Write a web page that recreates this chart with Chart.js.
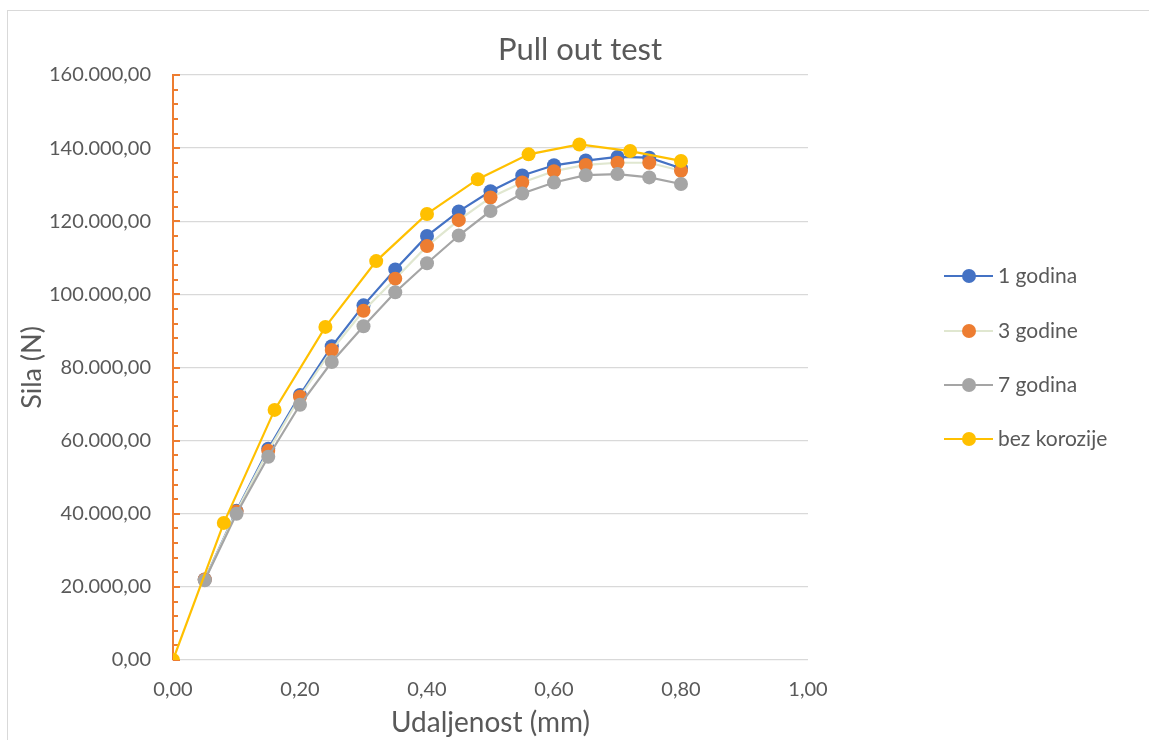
<!DOCTYPE html>
<html><head><meta charset="utf-8">
<script src="https://cdn.jsdelivr.net/npm/chart.js@4.4.0/dist/chart.umd.min.js"></script>
<style>
html,body{margin:0;padding:0;background:#fff;overflow:hidden}
#frame{position:absolute;left:7px;top:10px;width:1200px;height:800px;border:1px solid #d9d9d9;box-sizing:border-box}
#wrap{position:absolute;left:0;top:0;width:1149px;height:740px}
</style></head><body>
<div id="frame"></div>
<div id="wrap"><canvas id="c" width="1149" height="740"></canvas></div>
<script>
// ---- data ----
const xYears = [0.05,0.10,0.15,0.20,0.25,0.30,0.35,0.40,0.45,0.50,0.55,0.60,0.65,0.70,0.75,0.80];
const xBez   = [0,0.08,0.16,0.24,0.32,0.40,0.48,0.56,0.64,0.72,0.80];
const godina1 = [22000,40800,57800,72500,85800,97000,106800,116000,122700,128200,132500,135300,136600,137600,137400,134500];
const godine3 = [22000,40600,57200,72000,84800,95500,104300,113200,120300,126500,130600,133700,135400,136000,136000,133800];
const godina7 = [21800,40000,55600,69800,81500,91300,100600,108500,116100,122800,127600,130600,132600,132900,132000,130200];
const bezKorozije = [0,37500,68400,91100,109100,122000,131500,138300,141000,139200,136500];
const seriesNames = ['1 godina','3 godine','7 godina','bez korozije'];
const xTickValues = [0,0.2,0.4,0.6,0.8,1.0];
const yTickValues = [0,20000,40000,60000,80000,100000,120000,140000,160000];

const FONT = 'Lato';
const TXT = '#595959';

function pts(xs, ys){ return xs.map((x,i)=>({x:x, y:ys[i]})); }
function fmtY(v){
  const s = Math.round(v).toString().replace(/\B(?=(\d{3})+(?!\d))/g,'.');
  return s + ',00';
}
function fmtX(v){ return v.toFixed(2).replace('.',','); }

function ds(label, data, line, marker, order){
  return {label, data, borderColor: line, backgroundColor: marker, pointBackgroundColor: marker,
    pointBorderColor: marker, pointBorderWidth: 0, pointRadius: 7, pointHoverRadius: 7,
    borderWidth: 2.2, tension: 0, showLine: true, order: order, markerColor: marker};
}

const axisTicks = {
  id: 'axisTicks',
  beforeDatasetsDraw(chart){
    const y = chart.scales.y, ctx = chart.ctx;
    const x0 = chart.chartArea.left;
    ctx.save();
    ctx.strokeStyle = '#ED7D31';
    ctx.lineWidth = 2;
    for (let v = 0; v <= 160000; v += 4000){
      const py = Math.round(y.getPixelForValue(v));
      const major = (v % 20000 === 0);
      ctx.beginPath();
      ctx.moveTo(x0, py);
      ctx.lineTo(x0 + (major ? 7 : 5), py);
      ctx.stroke();
    }
    ctx.restore();
  }
};

const customLegend = {
  id: 'customLegend',
  afterDraw(chart){
    const ctx = chart.ctx;
    const rows = [276, 331, 385, 439];
    ctx.save();
    chart.data.datasets.forEach((d, i) => {
      const yy = rows[i];
      ctx.strokeStyle = d.borderColor;
      ctx.lineWidth = 2.2;
      ctx.beginPath(); ctx.moveTo(944, yy); ctx.lineTo(993, yy); ctx.stroke();
      ctx.fillStyle = d.markerColor;
      ctx.beginPath(); ctx.arc(969, yy, 7, 0, Math.PI*2); ctx.fill();
      ctx.fillStyle = TXT;
      ctx.font = '21px ' + FONT;
      ctx.textBaseline = 'middle';
      ctx.textAlign = 'left';
      ctx.fillText(d.label, 998, yy);
    });
    ctx.restore();
  }
};

new Chart(document.getElementById('c'), {
  type: 'scatter',
  data: {
    datasets: [
      ds(seriesNames[0], pts(xYears, godina1), '#4472C4', '#4472C4', 4),
      ds(seriesNames[1], pts(xYears, godine3), '#E0E7D0', '#ED7D31', 3),
      ds(seriesNames[2], pts(xYears, godina7), '#A5A5A5', '#A5A5A5', 2),
      ds(seriesNames[3], pts(xBez, bezKorozije), '#FFC000', '#FFC000', 1)
    ]
  },
  options: {
    responsive: false,
    animation: false,
    devicePixelRatio: 1,
    layout: { padding: { left: 11, right: 0, top: 0, bottom: 0 } },
    plugins: {
      legend: { display: false },
      tooltip: { enabled: false },
      title: { display: true, text: 'Pull out test', color: TXT,
        font: { family: FONT, size: 31, weight: 'normal' },
        padding: { top: 31.4, bottom: 6.4 } }
    },
    scales: {
      x: {
        type: 'linear', min: 0, max: 1,
        afterBuildTicks(s){ s.ticks = xTickValues.map(v => ({value: v})); },
        afterFit(s){ s.height = 80; },
        ticks: { color: TXT, font: { family: FONT, size: 20 }, padding: 18, callback: v => fmtX(v), maxRotation: 0 },
        grid: { display: false, drawTicks: false },
        border: { display: false },
        title: { display: true, text: 'Udaljenost (mm)', color: TXT,
          font: { family: FONT, size: 28 }, padding: { top: 0, bottom: 0 } }
      },
      y: {
        type: 'linear', min: 0, max: 160000,
        afterBuildTicks(s){ s.ticks = yTickValues.map(v => ({value: v})); },
        afterFit(s){ s.width = 162; },
        ticks: { color: TXT, font: { family: FONT, size: 20 }, padding: 22, callback: v => fmtY(v) },
        grid: { color: '#D9D9D9', lineWidth: 1.3, drawTicks: false },
        border: { display: true, color: '#ED7D31', width: 2 },
        title: { display: true, text: 'Sila (N)', color: TXT,
          font: { family: FONT, size: 27 }, padding: { top: 4.8, bottom: 0 } }
      },
      yRight: {
        type: 'linear', position: 'right', display: true, min: 0, max: 160000,
        afterFit(s){ s.width = 341; },
        ticks: { display: false },
        grid: { display: false, drawTicks: false },
        border: { display: false }
      }
    }
  },
  plugins: [axisTicks, customLegend]
});
</script>
</body></html>
